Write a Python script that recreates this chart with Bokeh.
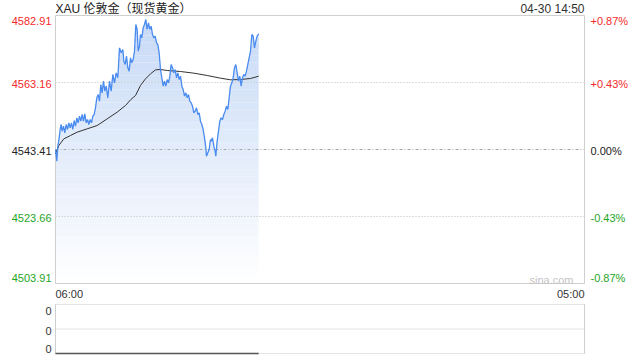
from bokeh.plotting import figure
from bokeh.models import Range1d, Label
from bokeh.embed import file_html
from bokeh.resources import INLINE

# ---------------- data ----------------
title_text = "XAU 伦敦金（现货黄金）"
stamp_text = "04-30 14:50"
session_minutes = 1380  # 06:00 -> 05:00 next day
time_labels = ["06:00", "05:00"]
time_ticks = [0, 1380]

price_ticks = [4582.91, 4563.16, 4543.41, 4523.66, 4503.91]
price_labels = ["4582.91", "4563.16", "4543.41", "4523.66", "4503.91"]
pct_labels = ["+0.87%", "+0.43%", "0.00%", "-0.43%", "-0.87%"]
prev_close = 4543.41

# minutes after 06:00
minutes = [0, 3.5, 6.1, 9.6, 12.2, 14.8, 17.4, 20.9, 24.3, 27.8, 31.3, 34.8, 38.3,
           41.7, 45.2, 48.7, 52.2, 55.7, 59.1, 62.6, 66.1, 69.6, 73.0, 76.5, 80.0,
           83.5, 87.0, 90.4, 93.9, 97.4, 100.9, 104.3, 107.8, 111.3, 114.8, 118.3,
           121.7, 125.2, 128.7, 132.2, 136.5, 140.9, 145.2, 149.6, 153.9, 158.3,
           162.6, 167.0, 171.3, 175.7, 178.3, 181.8, 185.2, 188.7, 192.2, 195.7,
           199.1, 202.6, 206.1, 209.6, 213.0, 215.7, 219.1, 221.7, 225.2, 228.7,
           232.2, 235.6, 239.1, 242.6, 246.1, 249.5, 253.0, 256.5, 260.0, 263.5,
           266.9, 270.4, 273.9, 277.4, 280.9, 284.3, 287.8, 291.3, 294.8, 298.3,
           301.7, 305.2, 308.7, 312.2, 315.7, 319.1, 322.6, 326.1, 329.6, 333.0,
           336.5, 340.0, 343.5, 347.0, 350.4, 353.9, 357.4, 360.9, 364.3, 367.8,
           371.3, 374.8, 378.3, 381.7, 385.2, 388.7, 392.2, 393.9, 397.4, 400.9,
           404.3, 406.1, 409.5, 413.0, 416.5, 418.2, 421.7, 425.2, 428.7, 432.1,
           435.6, 439.1, 442.6, 446.1, 449.5, 453.0, 456.5, 460.0, 463.5, 466.9,
           470.4, 473.9, 477.4, 480.8, 484.3, 487.8, 491.3, 494.8, 498.2, 501.7,
           505.2, 508.7, 512.2, 515.6, 519.1, 522.6, 526.1, 530.0]
price = [4543.41, 4539.97, 4544.39, 4546.85, 4549.31, 4550.78, 4548.81, 4550.29,
         4548.32, 4550.78, 4549.31, 4551.27, 4549.80, 4551.27, 4549.31, 4551.96,
         4550.29, 4552.75, 4551.27, 4553.24, 4551.76, 4553.73, 4551.76, 4553.93,
         4551.27, 4552.25, 4550.78, 4552.25, 4551.27, 4553.24, 4553.73, 4555.69,
         4558.64, 4559.62, 4557.66, 4562.57, 4560.12, 4563.55, 4560.61, 4562.08,
         4558.64, 4563.55, 4560.61, 4565.52, 4563.06, 4566.01, 4564.54, 4573.38,
         4571.91, 4572.89, 4569.45, 4568.47, 4570.92, 4567.48, 4566.50, 4570.43,
         4568.96, 4569.94, 4572.40, 4580.26, 4578.79, 4572.40, 4573.87, 4577.31,
         4576.33, 4579.28, 4580.26, 4581.73, 4578.79, 4580.75, 4578.79, 4579.77,
         4577.31, 4576.33, 4576.82, 4574.85, 4574.36, 4571.91, 4566.99, 4564.54,
         4562.08, 4563.55, 4562.08, 4564.04, 4563.06, 4565.03, 4568.47, 4567.48,
         4566.01, 4566.99, 4564.54, 4566.01, 4564.04, 4565.03, 4562.08, 4561.10,
         4559.13, 4560.12, 4558.64, 4559.62, 4557.66, 4557.17, 4556.18, 4554.22,
         4554.71, 4555.69, 4553.73, 4554.22, 4551.76, 4550.78, 4549.31, 4546.85,
         4543.90, 4541.45, 4542.43, 4543.41, 4546.36, 4545.87, 4546.85, 4544.39,
         4542.92, 4541.45, 4545.87, 4548.81, 4551.76, 4552.75, 4552.25, 4553.73,
         4554.71, 4556.18, 4555.20, 4558.64, 4562.08, 4563.06, 4564.54, 4567.48,
         4568.47, 4566.01, 4563.55, 4565.03, 4562.08, 4564.54, 4565.52, 4565.03,
         4566.50, 4568.47, 4570.43, 4572.40, 4577.31, 4576.82, 4573.38, 4575.34,
         4576.82, 4577.51]

avg_minutes = [0, 8.7, 21.7, 39.1, 56.5, 82.6, 108.7, 134.8, 160.9, 182.6, 195.7,
               208.7, 221.7, 234.8, 247.8, 260.9, 273.9, 291.3, 326.1, 360.9,
               395.7, 430.4, 456.5, 482.6, 508.7, 530.0]
avg_price = [4542.13, 4544.59, 4546.55, 4547.53, 4548.52, 4549.50, 4550.48,
             4552.45, 4554.42, 4556.38, 4558.05, 4559.32, 4562.28, 4564.24,
             4565.71, 4566.89, 4566.99, 4566.70, 4566.40, 4565.91, 4565.22,
             4564.44, 4563.95, 4564.04, 4564.34, 4565.02]

volume = [0 for _ in minutes]
volume_labels = ["0", "0", "0"]
volume_ticks = [2, 1, 0]

# ---------------- layout / style ----------------
W, H = 640, 360
PL, PR, PT, PB = 55, 584, 15, 283      # price panel frame (px)
VT, VB = 304, 353                      # volume panel top/bottom (px)

FONT = "Liberation Sans, Noto Sans CJK SC"
RED = "#f42a2a"
GREEN = "#1fa51f"
BLACK = "#222222"
label_colors = [RED, RED, BLACK, GREEN, GREEN]
label_yoff = [-5, -1.5, -1, -1, 6]
LINE = "#4a8bef"
BORDER = "#cfcfcf"

ymin, ymax = price_ticks[-1], price_ticks[0]
vmin, vmax = volume_ticks[-1], volume_ticks[0]
kx = session_minutes / (PR - PL)
ky = (ymax - ymin) / (PB - PT)
kv = (vmax - vmin) / (VB - VT)

p = figure(width=W, height=H,
           x_range=Range1d(-PL * kx, session_minutes + (W - PR) * kx),
           y_range=Range1d(ymin - (H - PB) * ky, ymax + PT * ky),
           x_axis_type=None, y_axis_type=None,
           toolbar_location=None, output_backend="svg",
           min_border=0)
p.extra_y_ranges = {"vol": Range1d(vmin - (H - VB) * kv, vmax + VT * kv)}
p.outline_line_color = None
p.background_fill_color = "white"
p.border_fill_color = "white"

# gradient area under the price line (bands of interpolated colour)
top_c = (198, 217, 246)
n_bands = 40
step = (ymax - ymin) / n_bands
for i in range(n_bands):
    lo = ymin + i * step
    hi = lo + step
    f = (i + 0.5) / n_bands
    c = tuple(int(round(255 + (tc - 255) * f)) for tc in top_c)
    col = "#%02x%02x%02x" % c
    y2 = [min(max(v, lo), hi) for v in price]
    p.varea(x=minutes, y1=[lo] * len(minutes), y2=y2, fill_color=col)

# grid lines
for t in price_ticks[1:-1]:
    dash = "3 2 1 2" if t == prev_close else "1 2"
    col = "#a8a8a8" if t == prev_close else "#bdbdbd"
    p.line([0, session_minutes], [t, t], line_color=col, line_width=1,
           line_dash=dash)

# price panel border
p.quad(left=0, right=session_minutes, bottom=ymin, top=ymax,
       fill_color=None, line_color=BORDER, line_width=1)

p.line(avg_minutes, avg_price, line_color="#333333", line_width=1)
p.line(minutes, price, line_color=LINE, line_width=1.3)

for t, lab, pct, c, yo in zip(price_ticks, price_labels, pct_labels, label_colors, label_yoff):
    p.add_layout(Label(x=0, y=t, x_offset=-4, y_offset=yo, text=lab,
                       text_align="right", text_baseline="middle",
                       text_font=FONT, text_font_size="11px", text_color=c))
    p.add_layout(Label(x=session_minutes, y=t, x_offset=6, y_offset=yo, text=pct,
                       text_align="left", text_baseline="middle",
                       text_font=FONT, text_font_size="11px", text_color=c))

p.add_layout(Label(x=0, y=ymax, y_offset=7, text=title_text, text_align="left",
                   text_baseline="middle", text_font=FONT, text_font_size="12px",
                   text_color=BLACK))
p.add_layout(Label(x=session_minutes, y=ymax, y_offset=7, text=stamp_text,
                   text_align="right", text_baseline="middle", text_font=FONT,
                   text_font_size="12px", text_color="#333333"))
p.add_layout(Label(x=session_minutes, y=ymin, x_offset=-11, y_offset=4,
                   text="sina.com", text_align="right", text_baseline="middle",
                   text_font=FONT, text_font_size="11px", text_color="#c4c4c4"))

for t, lab, al in zip(time_ticks, time_labels, ["left", "right"]):
    p.add_layout(Label(x=t, y=ymin, y_offset=-10.5, text=lab, text_align=al,
                       text_baseline="middle", text_font=FONT,
                       text_font_size="11px", text_color="#333333"))

# ---------------- volume panel ----------------
for t in volume_ticks:
    p.line([0, session_minutes], [t, t], y_range_name="vol",
           line_color="#c8c8c8", line_width=1, line_dash="1 1")
for xx in (0, session_minutes):
    p.line([xx, xx], [vmin, vmax], y_range_name="vol",
           line_color=BORDER, line_width=1)
p.line(minutes, volume, y_range_name="vol", line_color="#555555", line_width=1.5)
for t, lab, yo in zip(volume_ticks, volume_labels, [-6, -1.5, 5]):
    p.add_layout(Label(x=0, y=t, y_range_name="vol", x_offset=-4, y_offset=yo,
                       text=lab, text_align="right", text_baseline="middle",
                       text_font=FONT, text_font_size="11px",
                       text_color="#333333"))

open("out.html", "w").write(file_html(p, INLINE))
